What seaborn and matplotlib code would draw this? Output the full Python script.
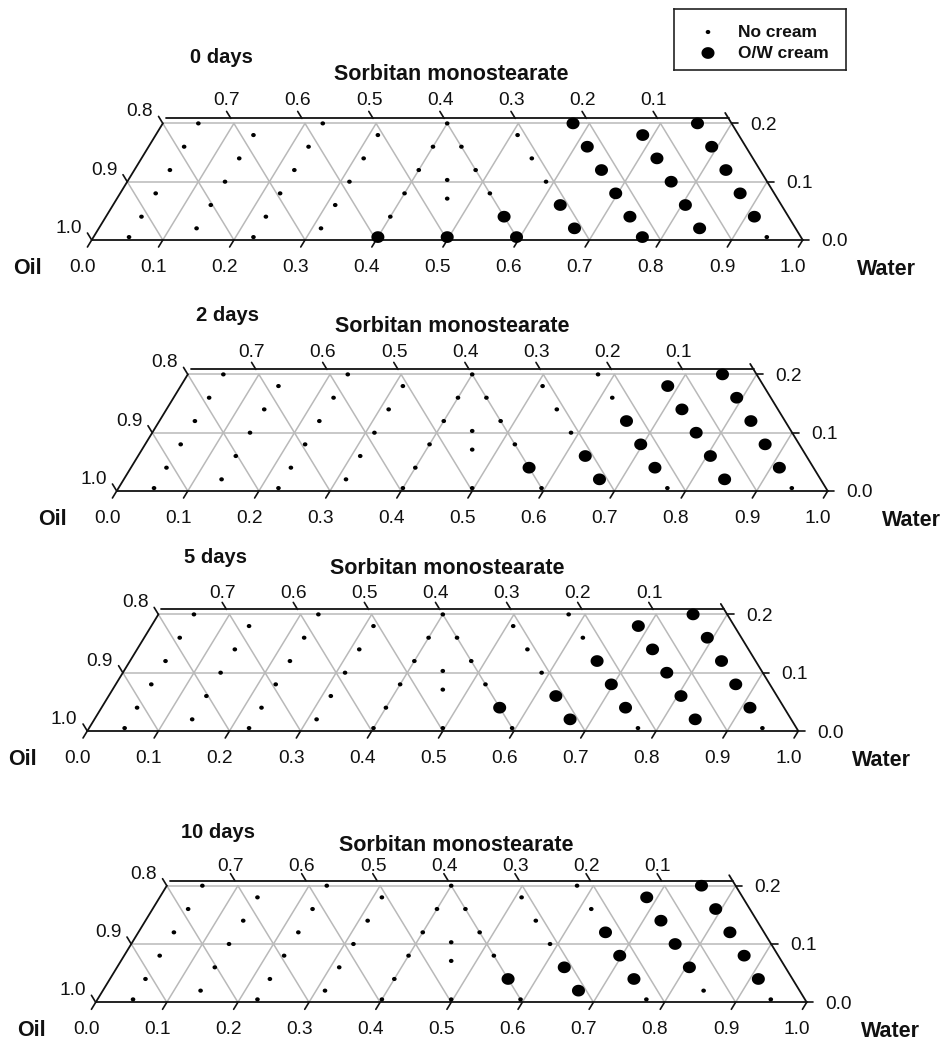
import numpy as np
import pandas as pd
import matplotlib
matplotlib.use("Agg")
import matplotlib.pyplot as plt
from matplotlib.path import Path
from matplotlib.markers import MarkerStyle
import seaborn as sns

sns.set_theme(style="white")
plt.rcParams["font.family"] = ["Liberation Sans", "DejaVu Sans"]

# ---------------------------------------------------------------------------
# Formulations: mass fractions of water and sorbitan monostearate (oil = rest)
# ---------------------------------------------------------------------------
water = [
    0.05, 0.05, 0.05, 0.05, 0.05, 0.05,                 # water 5 %
    0.1375, 0.1375, 0.1375, 0.1375, 0.1375,            # water 13.75 %
    0.225, 0.225, 0.225, 0.225, 0.225, 0.225,          # water 22.5 %
    0.3125, 0.3125, 0.3125, 0.3125, 0.3125,            # water 31.25 %
    0.40, 0.40, 0.40, 0.40, 0.40, 0.40,                # water 40 %
    0.4485, 0.4645, 0.4975,                            # oil = water
    0.595, 0.56, 0.52, 0.48, 0.44,                     # oil 40 %
    0.669, 0.629, 0.589, 0.549, 0.509,                 # oil 31 %
    0.772, 0.737, 0.697, 0.657, 0.617, 0.577,          # oil 22 %
    0.845, 0.805, 0.765, 0.725, 0.685,                 # oil 13.5 %
    0.947, 0.912, 0.872, 0.832, 0.792, 0.752,          # oil 5 %
]
surfactant = [
    0.005, 0.04, 0.08, 0.12, 0.16, 0.20,
    0.02, 0.06, 0.10, 0.14, 0.18,
    0.005, 0.04, 0.08, 0.12, 0.16, 0.20,
    0.02, 0.06, 0.10, 0.14, 0.18,
    0.005, 0.04, 0.08, 0.12, 0.16, 0.20,
    0.103, 0.071, 0.005,
    0.005, 0.04, 0.08, 0.12, 0.16,
    0.02, 0.06, 0.10, 0.14, 0.18,
    0.005, 0.04, 0.08, 0.12, 0.16, 0.20,
    0.02, 0.06, 0.10, 0.14, 0.18,
    0.005, 0.04, 0.08, 0.12, 0.16, 0.20,
]

# 1 = O/W cream formed, 0 = no cream
cream_0d = [
    0, 0, 0, 0, 0, 0,
    0, 0, 0, 0, 0,
    0, 0, 0, 0, 0, 0,
    0, 0, 0, 0, 0,
    1, 0, 0, 0, 0, 0,
    0, 0, 1,
    1, 1, 0, 0, 0,
    1, 1, 0, 0, 0,
    1, 1, 1, 1, 1, 1,
    1, 1, 1, 1, 1,
    0, 1, 1, 1, 1, 1,
]
cream_2d = [
    0, 0, 0, 0, 0, 0,
    0, 0, 0, 0, 0,
    0, 0, 0, 0, 0, 0,
    0, 0, 0, 0, 0,
    0, 0, 0, 0, 0, 0,
    0, 0, 0,
    0, 1, 0, 0, 0,
    1, 1, 0, 0, 0,
    0, 1, 1, 1, 0, 0,
    1, 1, 1, 1, 1,
    0, 1, 1, 1, 1, 1,
]
cream_5d = [
    0, 0, 0, 0, 0, 0,
    0, 0, 0, 0, 0,
    0, 0, 0, 0, 0, 0,
    0, 0, 0, 0, 0,
    0, 0, 0, 0, 0, 0,
    0, 0, 0,
    0, 1, 0, 0, 0,
    1, 1, 0, 0, 0,
    0, 1, 1, 1, 0, 0,
    1, 1, 1, 1, 1,
    0, 1, 1, 1, 1, 1,
]
cream_10d = [
    0, 0, 0, 0, 0, 0,
    0, 0, 0, 0, 0,
    0, 0, 0, 0, 0, 0,
    0, 0, 0, 0, 0,
    0, 0, 0, 0, 0, 0,
    0, 0, 0,
    0, 1, 0, 0, 0,
    1, 1, 0, 0, 0,
    0, 1, 1, 1, 0, 0,
    0, 1, 1, 1, 1,
    0, 1, 1, 1, 1, 1,
]
panel_titles = ["0 days", "2 days", "5 days", "10 days"]
cream_by_panel = [cream_0d, cream_2d, cream_5d, cream_10d]

water_ticks = [0.0, 0.1, 0.2, 0.3, 0.4, 0.5, 0.6, 0.7, 0.8, 0.9, 1.0]
oil_side_ticks = [0.8, 0.9, 1.0]
surf_ticks = [0.0, 0.1, 0.2]
oil_top_ticks = [0.7, 0.6, 0.5, 0.4, 0.3, 0.2, 0.1]
legend_labels = ["No cream", "O/W cream"]

# ---------------------------------------------------------------------------
# Layout (figure pixels)
# ---------------------------------------------------------------------------
W, H = 946, 1041
SX, SY = 711.0, 583.0            # pixels per unit along water axis / surfactant
XL, XR, YB, YT = -0.2, 1.3, -0.1, 0.36

panels = [
    dict(x0=91.7, y0=240.0, days=(190, 63), title=(451, 80), top=105),
    dict(x0=116.7, y0=491.0, days=(196, 321), title=(452, 332), top=357),
    dict(x0=87.3, y0=731.0, days=(184, 563), title=(447, 574), top=598),
    dict(x0=95.7, y0=1002.3, days=(181, 838), title=(456, 851), top=871),
]

GRID = "#b9b9b9"
INK = "#111111"
DIGIT_FS = 13.8
NAME_FS = 15.5

# slightly flattened dot, as printed
t = np.linspace(0, 2 * np.pi, 64)
dot = MarkerStyle(Path(np.column_stack([np.cos(t), 0.9 * np.sin(t)]), closed=True))

fig = plt.figure(figsize=(W / 100, H / 100), dpi=100)


def tern(w, s):
    """ternary -> cartesian (x along the water axis, y = surfactant)"""
    return np.asarray(w) + np.asarray(s) / 2.0, np.asarray(s)


for p, title, cream in zip(panels, panel_titles, cream_by_panel):
    x0, y0 = p["x0"], p["y0"]
    left = x0 + XL * SX
    ax = fig.add_axes([left / W, 1 - (y0 - YB * SY) / H,
                       (XR - XL) * SX / W, (YT - YB) * SY / H])
    ax.set_xlim(XL, XR)
    ax.set_ylim(YB, YT)
    ax.set_axis_off()
    ax.patch.set_alpha(0)

    def to_data(xp, yp):
        return (xp - x0) / SX, (y0 - yp) / SY

    # grey triangular grid
    for v in [0.1, 0.2, 0.3, 0.4, 0.5, 0.6, 0.7, 0.8, 0.9]:
        s_top = min(0.2, 1 - v)
        # constant water
        ax.plot(*tern([v, v], [0, s_top]), color=GRID, lw=1.1, zorder=1)
        # constant oil
        wa, wb = 1 - v, 1 - v - s_top
        ax.plot(*tern([wa, wb], [0, s_top]), color=GRID, lw=1.1, zorder=1)
    ax.plot([0.05, 0.95], [0.1, 0.1], color=GRID, lw=1.1, zorder=1)
    ax.plot([0.1, 0.9], [0.2, 0.2], color=GRID, lw=1.1, zorder=1)

    # frame
    s_frame = 0.2086
    ax.plot([0, 1], [0, 0], color=INK, lw=1.3, zorder=2)
    ax.plot([0, 0.1], [0, 0.2], color=INK, lw=1.3, zorder=2)
    ax.plot([0.104, 1 - s_frame / 2], [s_frame, s_frame], color=INK, lw=1.3, zorder=2)
    ax.plot([1, 1 - 0.218 / 2], [0, 0.218], color=INK, lw=1.3, zorder=2)

    d = 0.012
    # water axis (bottom)
    for w in water_ticks:
        ax.plot([w, w - d / 2], [0, -d], color=INK, lw=1.2, zorder=2)
        xp = x0 + w * SX - 9.5
        ax.text(*to_data(xp, y0 + 31.7), f"{w:.1f}", ha="center", va="baseline",
                fontsize=DIGIT_FS, color=INK)
    # oil axis (left side)
    for o in oil_side_ticks:
        s = 1 - o
        ax.plot([s / 2, s / 2 - d / 2], [s, s + d], color=INK, lw=1.2, zorder=2)
        xp = x0 + (s / 2) * SX - 10
        ax.text(*to_data(xp, y0 - s * SY - 7), f"{o:.1f}", ha="right", va="baseline",
                fontsize=DIGIT_FS, color=INK)
    # surfactant axis (right side)
    for s in surf_ticks:
        xe = 1 - s / 2
        ax.plot([xe, xe + 0.009], [s, s], color=INK, lw=1.2, zorder=2)
        xp = x0 + xe * SX + 19
        ax.text(*to_data(xp, y0 - s * SY + 6.5), f"{s:.1f}", ha="left", va="baseline",
                fontsize=DIGIT_FS, color=INK)
    # oil read along the top edge
    for o in oil_top_ticks:
        xa = 1 - o - s_frame / 2
        ax.plot([xa, xa - d / 2], [s_frame, s_frame + d], color=INK, lw=1.2, zorder=2)
        xp = x0 + (0.9 - o) * SX - 7
        ax.text(*to_data(xp, p["top"]), f"{o:.1f}", ha="center", va="baseline",
                fontsize=DIGIT_FS, color=INK)

    # axis names and panel label
    ax.text(*to_data(x0 - 79, y0 + 34), "Oil", ha="left", va="baseline",
            fontsize=NAME_FS, fontweight="bold", color=INK)
    ax.text(*to_data(x0 + SX + 54, y0 + 35), "Water", ha="left", va="baseline",
            fontsize=NAME_FS, fontweight="bold", color=INK)
    ax.text(*to_data(*p["days"]), title, ha="left", va="baseline",
            fontsize=14.5, fontweight="bold", color=INK)
    ax.text(*to_data(*p["title"]), "Sorbitan monostearate", ha="center", va="baseline",
            fontsize=15.5, fontweight="bold", color=INK)

    # formulations
    X, S = tern(water, surfactant)
    df = pd.DataFrame({"X": X, "S": S,
                       "result": [legend_labels[c] for c in cream]})
    sns.scatterplot(data=df, x="X", y="S", size="result",
                    sizes={legend_labels[0]: 11, legend_labels[1]: 88},
                    color="black", marker=dot, linewidth=0, edgecolor="none",
                    legend=False, ax=ax, zorder=3)
    ax.set_xlim(XL, XR)
    ax.set_ylim(YB, YT)
    ax.set_axis_off()

# legend box
lx0, ly0, lx1, ly1 = 673.5, 8.5, 846.0, 70.0
lax = fig.add_axes([lx0 / W, 1 - ly1 / H, (lx1 - lx0) / W, (ly1 - ly0) / H])
lax.set_xlim(lx0, lx1)
lax.set_ylim(ly1, ly0)
lax.set_xticks([])
lax.set_yticks([])
for sp in lax.spines.values():
    sp.set_color("#222222")
    sp.set_linewidth(1.2)
lax.patch.set_facecolor("white")
leg_df = pd.DataFrame({"x": [708, 708], "y": [32, 53], "result": legend_labels})
sns.scatterplot(data=leg_df, x="x", y="y", size="result",
                sizes={legend_labels[0]: 11, legend_labels[1]: 88},
                color="black", marker=dot, linewidth=0, edgecolor="none",
                legend=False, ax=lax)
lax.set_xlim(lx0, lx1)
lax.set_ylim(ly1, ly0)
lax.set_xlabel("")
lax.set_ylabel("")
for yb, lab in zip([37, 58], legend_labels):
    lax.text(738, yb, lab, ha="left", va="baseline", fontsize=12.5,
             fontweight="bold", color=INK)

fig.savefig("out.png", dpi=100, facecolor="white")
